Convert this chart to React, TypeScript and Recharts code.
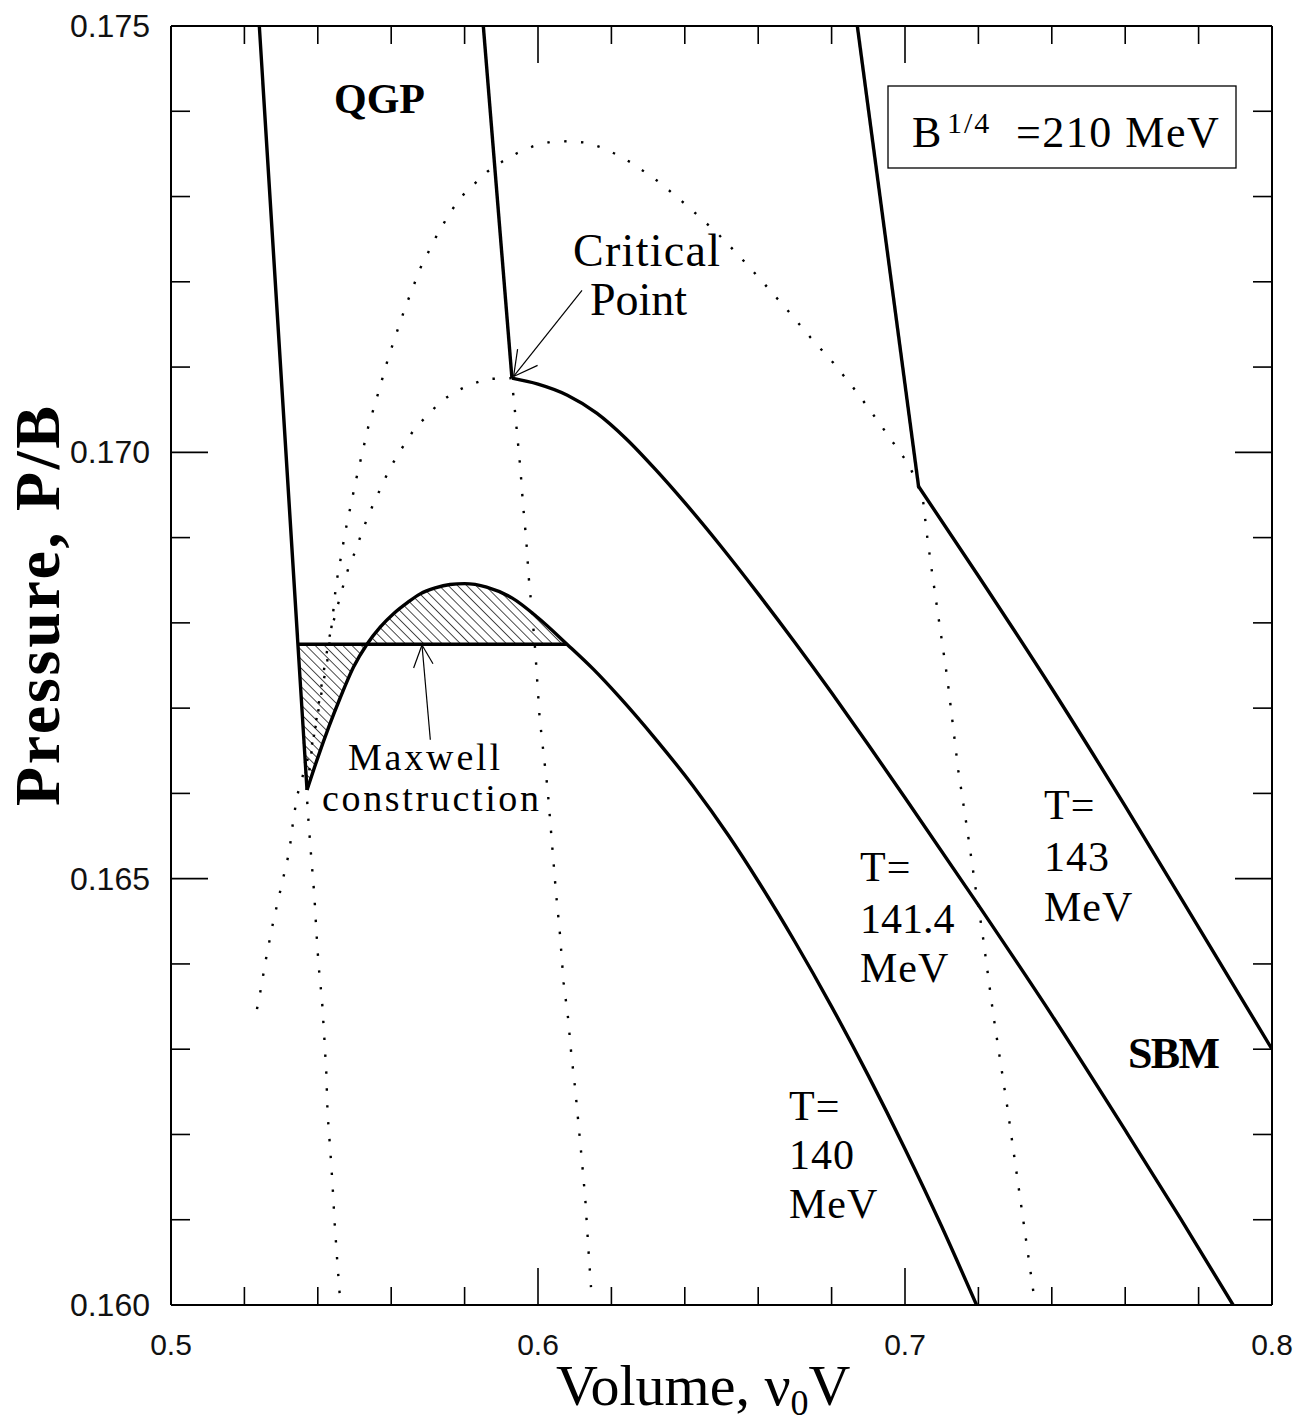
import React from 'react'
import { ComposedChart, Line, Area, XAxis, YAxis, ReferenceLine, Customized } from 'recharts'

// axis ticks
const xTicks = [0.5, 0.52, 0.54, 0.56, 0.58, 0.6, 0.62, 0.64, 0.66, 0.68, 0.7, 0.72, 0.74, 0.76, 0.78, 0.8]
const xMajor = [0.5, 0.6, 0.7, 0.8]
const yTicks = [
  0.16, 0.161, 0.162, 0.163, 0.164, 0.165, 0.166, 0.167, 0.168, 0.169, 0.17, 0.171, 0.172, 0.173, 0.174, 0.175,
]
const yMajor = [0.16, 0.165, 0.17, 0.175]

// T = 140 MeV
const qgp140 = [
  { v: 0.52406, p: 0.175 },
  { v: 0.53706, p: 0.16604 },
]
const hadron140 = [
  { v: 0.53706, p: 0.16604 },
  { v: 0.54, p: 0.16642 },
  { v: 0.543, p: 0.16678 },
  { v: 0.546, p: 0.16711 },
  { v: 0.5497, p: 0.16748 },
  { v: 0.5534, p: 0.16775 },
  { v: 0.557, p: 0.16795 },
  { v: 0.5607, p: 0.16811 },
  { v: 0.5645, p: 0.16824 },
  { v: 0.5679, p: 0.16834 },
  { v: 0.572, p: 0.16841 },
  { v: 0.576, p: 0.16845 },
  { v: 0.58, p: 0.16846 },
  { v: 0.586, p: 0.16842 },
  { v: 0.593, p: 0.16829 },
  { v: 0.6, p: 0.16806 },
  { v: 0.6079, p: 0.16775 },
  { v: 0.615, p: 0.16746 },
  { v: 0.6224, p: 0.16712 },
  { v: 0.632, p: 0.16664 },
  { v: 0.6422, p: 0.16609 },
  { v: 0.652, p: 0.1655 },
  { v: 0.66, p: 0.16497 },
  { v: 0.67, p: 0.16426 },
  { v: 0.68, p: 0.1635 },
  { v: 0.69, p: 0.16269 },
  { v: 0.7, p: 0.16183 },
  { v: 0.71, p: 0.16092 },
  { v: 0.7195, p: 0.16 },
]
const maxwellP = 0.16775
const maxwell = [
  { v: 0.53477, p: maxwellP },
  { v: 0.6079, p: maxwellP },
]

// T = 141.4 MeV
const qgp141 = [
  { v: 0.5851, p: 0.175 },
  { v: 0.5929, p: 0.17087 },
]
const hadron141 = [
  { v: 0.5929, p: 0.17087 },
  { v: 0.6, p: 0.1708 },
  { v: 0.608, p: 0.17067 },
  { v: 0.616, p: 0.17046 },
  { v: 0.624, p: 0.17016 },
  { v: 0.632, p: 0.1698 },
  { v: 0.64, p: 0.16941 },
  { v: 0.65, p: 0.16889 },
  { v: 0.66, p: 0.16834 },
  { v: 0.67, p: 0.16777 },
  { v: 0.68, p: 0.16718 },
  { v: 0.69, p: 0.16657 },
  { v: 0.7, p: 0.16595 },
  { v: 0.72, p: 0.16469 },
  { v: 0.74, p: 0.1634 },
  { v: 0.76, p: 0.16205 },
  { v: 0.775, p: 0.16102 },
  { v: 0.7894, p: 0.16 },
]

// T = 143 MeV
const qgp143 = [
  { v: 0.68701, p: 0.175 },
  { v: 0.7037, p: 0.1696 },
]
const hadron143 = [
  { v: 0.7037, p: 0.1696 },
  { v: 0.72, p: 0.16855 },
  { v: 0.74, p: 0.16723 },
  { v: 0.76, p: 0.16585 },
  { v: 0.78, p: 0.16443 },
  { v: 0.8, p: 0.163 },
]

// dotted outer boundary
const outerDome = [
  { v: 0.52343, p: 0.16347 },
  { v: 0.52433, p: 0.16367 },
  { v: 0.52597, p: 0.16408 },
  { v: 0.52788, p: 0.1645 },
  { v: 0.53006, p: 0.16491 },
  { v: 0.53224, p: 0.16532 },
  { v: 0.53332, p: 0.16569 },
  { v: 0.53442, p: 0.16598 },
  { v: 0.53632, p: 0.16627 },
  { v: 0.53877, p: 0.16663 },
  { v: 0.54068, p: 0.1671 },
  { v: 0.54259, p: 0.16756 },
  { v: 0.54395, p: 0.16803 },
  { v: 0.54504, p: 0.16847 },
  { v: 0.54586, p: 0.16866 },
  { v: 0.54749, p: 0.16907 },
  { v: 0.55049, p: 0.16969 },
  { v: 0.55376, p: 0.1703 },
  { v: 0.55649, p: 0.1707 },
  { v: 0.55921, p: 0.17111 },
  { v: 0.56193, p: 0.17146 },
  { v: 0.56384, p: 0.1717 },
  { v: 0.56793, p: 0.17216 },
  { v: 0.57201, p: 0.17251 },
  { v: 0.5761, p: 0.17282 },
  { v: 0.58019, p: 0.17305 },
  { v: 0.58618, p: 0.17329 },
  { v: 0.59027, p: 0.17341 },
  { v: 0.59436, p: 0.17351 },
  { v: 0.59872, p: 0.17359 },
  { v: 0.60335, p: 0.17364 },
  { v: 0.6088, p: 0.17365 },
  { v: 0.61343, p: 0.17363 },
  { v: 0.61698, p: 0.17358 },
  { v: 0.62161, p: 0.17349 },
  { v: 0.62569, p: 0.17339 },
  { v: 0.63332, p: 0.17316 },
  { v: 0.64095, p: 0.17288 },
  { v: 0.64885, p: 0.17257 },
  { v: 0.65512, p: 0.17229 },
  { v: 0.66138, p: 0.17199 },
  { v: 0.66792, p: 0.17167 },
  { v: 0.67419, p: 0.17135 },
  { v: 0.68045, p: 0.17105 },
  { v: 0.68699, p: 0.1707 },
  { v: 0.69272, p: 0.17036 },
  { v: 0.69817, p: 0.17003 },
  { v: 0.70117, p: 0.16985 },
  { v: 0.70363, p: 0.16959 },
  { v: 0.70499, p: 0.16941 },
  { v: 0.70608, p: 0.169 },
  { v: 0.70744, p: 0.16857 },
  { v: 0.7088, p: 0.16816 },
  { v: 0.71153, p: 0.16735 },
  { v: 0.71452, p: 0.16627 },
  { v: 0.71698, p: 0.16557 },
  { v: 0.71916, p: 0.16491 },
  { v: 0.72107, p: 0.16437 },
  { v: 0.72407, p: 0.1634 },
  { v: 0.72788, p: 0.16232 },
  { v: 0.73142, p: 0.16124 },
  { v: 0.73496, p: 0.16016 },
]

// dotted inner boundary, peaking at the critical point
const innerDome = [
  { v: 0.54594, p: 0.16014 },
  { v: 0.54523, p: 0.16056 },
  { v: 0.54458, p: 0.16097 },
  { v: 0.54403, p: 0.1614 },
  { v: 0.54341, p: 0.16181 },
  { v: 0.54267, p: 0.16224 },
  { v: 0.54232, p: 0.16272 },
  { v: 0.54177, p: 0.16314 },
  { v: 0.54115, p: 0.16357 },
  { v: 0.54022, p: 0.16398 },
  { v: 0.53959, p: 0.1644 },
  { v: 0.53905, p: 0.16481 },
  { v: 0.53823, p: 0.16524 },
  { v: 0.53749, p: 0.16566 },
  { v: 0.537, p: 0.16598 },
  { v: 0.53796, p: 0.16639 },
  { v: 0.53959, p: 0.16686 },
  { v: 0.54123, p: 0.16733 },
  { v: 0.54313, p: 0.16783 },
  { v: 0.54559, p: 0.16823 },
  { v: 0.54695, p: 0.16844 },
  { v: 0.54831, p: 0.16864 },
  { v: 0.55022, p: 0.16884 },
  { v: 0.55185, p: 0.16904 },
  { v: 0.55349, p: 0.16923 },
  { v: 0.5554, p: 0.16942 },
  { v: 0.55758, p: 0.16962 },
  { v: 0.55948, p: 0.1698 },
  { v: 0.56193, p: 0.16998 },
  { v: 0.56384, p: 0.17011 },
  { v: 0.56657, p: 0.17029 },
  { v: 0.56984, p: 0.17043 },
  { v: 0.57311, p: 0.17058 },
  { v: 0.57693, p: 0.1707 },
  { v: 0.58128, p: 0.17079 },
  { v: 0.58591, p: 0.17086 },
  { v: 0.59273, p: 0.17087 },
  { v: 0.59335, p: 0.17065 },
  { v: 0.59428, p: 0.17023 },
  { v: 0.59518, p: 0.16982 },
  { v: 0.59591, p: 0.16939 },
  { v: 0.59681, p: 0.16897 },
  { v: 0.59744, p: 0.16855 },
  { v: 0.59836, p: 0.16813 },
  { v: 0.59926, p: 0.16767 },
  { v: 0.60044, p: 0.16689 },
  { v: 0.60153, p: 0.16646 },
  { v: 0.60262, p: 0.16605 },
  { v: 0.60382, p: 0.16541 },
  { v: 0.60491, p: 0.16483 },
  { v: 0.60589, p: 0.1644 },
  { v: 0.60698, p: 0.16378 },
  { v: 0.60818, p: 0.16337 },
  { v: 0.60908, p: 0.16294 },
  { v: 0.61017, p: 0.16252 },
  { v: 0.61106, p: 0.16211 },
  { v: 0.61199, p: 0.16168 },
  { v: 0.61289, p: 0.16124 },
  { v: 0.61379, p: 0.16062 },
  { v: 0.61444, p: 0.16021 },
]

// annotation arrows (tail, tip, two barbs)
const criticalArrow = [
  { x: 0.61199, y: 0.1719 },
  { x: 0.59335, y: 0.17089 },
  { x: 0.59444, y: 0.17121 },
  { x: 0.59989, y: 0.17102 },
]
const maxwellArrow = [
  { x: 0.57066, y: 0.16663 },
  { x: 0.56839, y: 0.16774 },
  { x: 0.56611, y: 0.16747 },
  { x: 0.57139, y: 0.16752 },
]

// hatched Maxwell area between the loop and the flat line
const hatchData = [
  { v: maxwell[0].v, r: [maxwellP, maxwellP] },
  ...hadron140
    .filter((d) => d.v <= maxwell[1].v + 1e-9)
    .map((d) => ({ v: d.v, r: [Math.min(d.p, maxwellP), Math.max(d.p, maxwellP)] })),
]

const isMajor = (val: number, majors: number[]) => majors.some((m) => Math.abs(m - val) < 1e-9)
const sans = "'Liberation Sans', Arial, sans-serif"
const serif = "'Liberation Serif', 'Times New Roman', serif"

const BottomTick = ({ x, y, payload }: any) => {
  const major = isMajor(payload.value, xMajor)
  return (
    <g>
      <line x1={x} x2={x} y1={y} y2={y - (major ? 37 : 18)} stroke="#000" strokeWidth={1.6} />
      {major && (
        <text x={x} y={y + 50} textAnchor="middle" fontFamily={sans} fontSize={30} fill="#111">
          {payload.value.toFixed(1)}
        </text>
      )}
    </g>
  )
}

const TopTick = ({ x, y, payload }: any) => {
  const major = isMajor(payload.value, xMajor)
  return <line x1={x} x2={x} y1={y} y2={y + (major ? 37 : 18)} stroke="#000" strokeWidth={1.6} />
}

const LeftTick = ({ x, y, payload }: any) => {
  const major = isMajor(payload.value, yMajor)
  return (
    <g>
      <line x1={x} x2={x + (major ? 37 : 19)} y1={y} y2={y} stroke="#000" strokeWidth={1.6} />
      {major && (
        <text x={x - 21} y={y + 11} textAnchor="end" fontFamily={sans} fontSize={32} fill="#111">
          {payload.value.toFixed(3)}
        </text>
      )}
    </g>
  )
}

const RightTick = ({ x, y, payload }: any) => {
  const major = isMajor(payload.value, yMajor)
  return <line x1={x} x2={x - (major ? 37 : 19)} y1={y} y2={y} stroke="#000" strokeWidth={1.6} />
}

// free text, placed in page pixels
const Annotations = () => (
  <g fontFamily={serif} fill="#000">
    <text x={334} y={113} fontSize={42} fontWeight="bold">QGP</text>
    <text x={573} y={266} fontSize={46} textLength={147} lengthAdjust="spacing">Critical</text>
    <text x={590} y={315} fontSize={46}>Point</text>
    <text x={348} y={770} fontSize={38} textLength={152} lengthAdjust="spacing">Maxwell</text>
    <text x={322} y={811} fontSize={38} textLength={217} lengthAdjust="spacing">construction</text>

    <rect x={888} y={86} width={348} height={82} fill="none" stroke="#000" strokeWidth={1.3} />
    <text x={912} y={147} fontSize={44}>B</text>
    <text x={947} y={133} fontSize={30} letterSpacing={2}>1/4</text>
    <text x={1016} y={147} fontSize={44} letterSpacing={1.5}>=210 MeV</text>

    <text x={1044} y={819} fontSize={42} letterSpacing={1}>T=</text>
    <text x={1044} y={871} fontSize={42} letterSpacing={1}>143</text>
    <text x={1044} y={921} fontSize={42} letterSpacing={1}>MeV</text>

    <text x={860} y={881} fontSize={42} letterSpacing={1}>T=</text>
    <text x={860} y={933} fontSize={42}>141.4</text>
    <text x={860} y={982} fontSize={42} letterSpacing={1}>MeV</text>

    <text x={789} y={1120} fontSize={42} letterSpacing={1}>T=</text>
    <text x={789} y={1169} fontSize={42} letterSpacing={1}>140</text>
    <text x={789} y={1218} fontSize={42} letterSpacing={1}>MeV</text>

    <text x={1128} y={1068} fontSize={44} fontWeight="bold" textLength={92} lengthAdjust="spacing">SBM</text>

    <text x={556} y={1405} fontSize={58}>
      Volume, ν<tspan dy={10} fontSize={36}>0</tspan>
      <tspan dy={-10}>V</tspan>
    </text>
    <text
      x={59}
      y={606}
      fontSize={64}
      fontWeight="bold"
      textAnchor="middle"
      textLength={400}
      lengthAdjust="spacing"
      transform="rotate(-90 59 606)"
    >
      Pressure, P/B
    </text>
  </g>
)

const solid = { stroke: '#000', strokeWidth: 3.4, dot: false, activeDot: false, isAnimationActive: false, legendType: 'none' as const }
const dotted = { ...solid, strokeWidth: 2.4, strokeDasharray: '2.4 14.5' }

const App: React.FC = () => {
  const arrow = (a: { x: number; y: number }[], key: string) => [
    <ReferenceLine key={`${key}-s`} segment={[a[0], a[1]]} stroke="#000" strokeWidth={1.2} />,
    <ReferenceLine key={`${key}-a`} segment={[a[1], a[2]]} stroke="#000" strokeWidth={1.2} />,
    <ReferenceLine key={`${key}-b`} segment={[a[1], a[3]]} stroke="#000" strokeWidth={1.2} />,
  ]

  return (
    <div style={{ position: 'absolute', left: 0, top: 0, width: 1298, height: 1427, background: '#fff' }}>
      <ComposedChart width={1298} height={1427} margin={{ top: 25, right: 25, bottom: 121, left: 170 }}>
        <defs>
          <pattern id="hatch" patternUnits="userSpaceOnUse" width={6.5} height={6.5} patternTransform="rotate(-45)">
            <line x1={0} y1={0} x2={0} y2={6.5} stroke="#000" strokeWidth={1.4} />
          </pattern>
        </defs>
        <XAxis
          xAxisId={0}
          type="number"
          dataKey="v"
          domain={[0.5, 0.8]}
          allowDataOverflow
          ticks={xTicks}
          interval={0}
          height={1}
          tickSize={0}
          tickMargin={0}
          tickLine={false}
          axisLine={{ stroke: '#000', strokeWidth: 2 }}
          tick={<BottomTick />}
        />
        <XAxis
          xAxisId="top"
          orientation="top"
          type="number"
          dataKey="v"
          domain={[0.5, 0.8]}
          allowDataOverflow
          ticks={xTicks}
          interval={0}
          height={1}
          tickSize={0}
          tickMargin={0}
          tickLine={false}
          axisLine={{ stroke: '#000', strokeWidth: 2 }}
          tick={<TopTick />}
        />
        <YAxis
          yAxisId={0}
          type="number"
          domain={[0.16, 0.175]}
          allowDataOverflow
          ticks={yTicks}
          interval={0}
          width={1}
          tickSize={0}
          tickMargin={0}
          tickLine={false}
          axisLine={{ stroke: '#000', strokeWidth: 2 }}
          tick={<LeftTick />}
        />
        <YAxis
          yAxisId="right"
          orientation="right"
          type="number"
          domain={[0.16, 0.175]}
          allowDataOverflow
          ticks={yTicks}
          interval={0}
          width={1}
          tickSize={0}
          tickMargin={0}
          tickLine={false}
          axisLine={{ stroke: '#000', strokeWidth: 2 }}
          tick={<RightTick />}
        />

        <Area
          data={hatchData}
          dataKey="r"
          type="monotone"
          stroke="none"
          fill="url(#hatch)"
          fillOpacity={1}
          isAnimationActive={false}
          activeDot={false}
          legendType="none"
        />

        <Line data={outerDome} dataKey="p" type="linear" {...dotted} />
        <Line data={innerDome} dataKey="p" type="linear" {...dotted} />

        <Line data={qgp140} dataKey="p" type="linear" {...solid} />
        <Line data={hadron140} dataKey="p" type="monotone" {...solid} />
        <Line data={maxwell} dataKey="p" type="linear" {...solid} />
        <Line data={qgp141} dataKey="p" type="linear" {...solid} />
        <Line data={hadron141} dataKey="p" type="monotone" {...solid} />
        <Line data={qgp143} dataKey="p" type="linear" {...solid} />
        <Line data={hadron143} dataKey="p" type="monotone" {...solid} />

        {arrow(criticalArrow, 'crit')}
        {arrow(maxwellArrow, 'max')}

        <Customized component={Annotations} />
      </ComposedChart>
    </div>
  )
}

export default App
